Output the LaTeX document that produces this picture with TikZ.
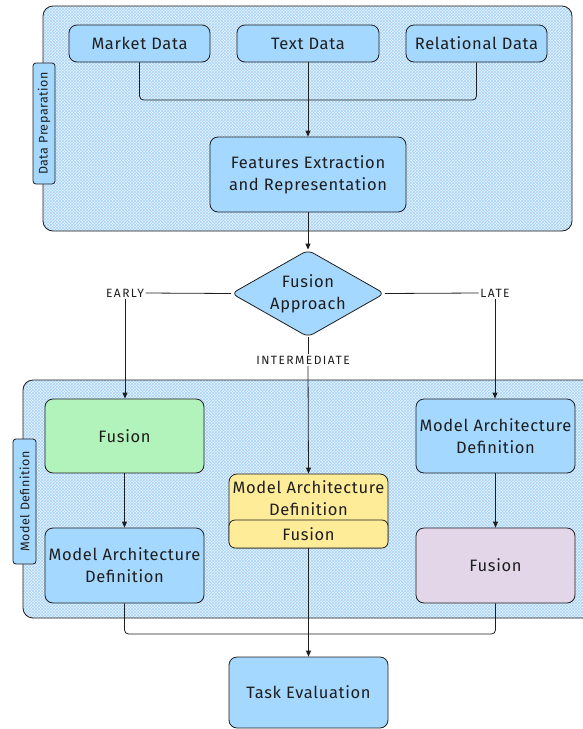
\documentclass[tikz,border=0pt]{standalone}
\usepackage{fontspec}
\setmainfont{Fira Sans}[LetterSpace=4]
\newfontfamily\choicefont{Fira Sans}[LetterSpace=12]
\usetikzlibrary{shapes.geometric,patterns,arrows.meta}

\definecolor{ink}{RGB}{30,30,30}
\definecolor{boxblue}{RGB}{165,216,255}
\definecolor{boxgreen}{RGB}{178,242,187}
\definecolor{boxyellow}{RGB}{255,236,153}
\definecolor{boxlilac}{RGB}{226,214,232}
\definecolor{hatchbg}{RGB}{232,244,255}
\definecolor{hatchln}{RGB}{165,210,246}

\tikzset{
  every node/.style={text=ink},
  label text/.style={font=\fontsize{16.5}{22}\selectfont},
  card/.style={draw=ink, line width=0.8pt, rounded corners=8pt, fill=boxblue,
    align=center, inner sep=1pt, label text},
  tag/.style={draw=ink, line width=0.8pt, rounded corners=3pt, fill=boxblue,
    rotate=90, inner sep=1pt, font=\fontsize{12.5}{14}\selectfont},
  group/.style={draw=ink, line width=0.8pt, rounded corners=10pt,
    preaction={fill=hatchbg}, pattern=crosshatch, pattern color=hatchln},
  wire/.style={draw=ink, line width=0.8pt, rounded corners=4pt},
  arrow/.style={wire, -{Triangle[length=6pt,width=5pt]}},
  choice/.style={font=\choicefont\fontsize{12}{13}\selectfont, inner sep=1.5pt}
}

\begin{document}
\begin{tikzpicture}[x=1pt,y=-1pt]
\useasboundingbox (0,0) rectangle (582,729);

% group backgrounds
\path[group] (43,6) rectangle (572,231);
\path[group] (23,380) rectangle (605,618);

% data preparation stage
\node[tag, minimum width=121pt, minimum height=22pt] (dptag) at (44,123.5) {Data Preparation};
\node[card, minimum width=141pt, minimum height=37pt] (md) at (139.5,43.5) {Market Data};
\node[card, minimum width=142pt, minimum height=37pt] (td) at (308,43.5) {Text Data};
\node[card, minimum width=141pt, minimum height=37pt] (rd) at (476.5,43.5) {Relational Data};
\node[card, minimum width=196pt, minimum height=75pt] (fe) at (308,174.5) {Features Extraction\\and Representation};
\coordinate (jtop) at (308,100);

\draw[wire] (md.south) |- (jtop);
\draw[wire] (rd.south) |- (jtop);
\draw[arrow] (td.south) -- (fe.north);

% fusion decision
\node[diamond, draw=ink, line width=0.8pt, fill=boxblue, rounded corners=6pt,
  minimum width=153pt, minimum height=87pt, inner sep=0pt, aspect=1.76] (fa) at (308,293.5) {};
\node[align=center, label text] (fatext) at (fa.center) {Fusion\\Approach};
\draw[arrow] (fe.south) -- (fa.north);

\node[choice] (early) at (125,293) {EARLY};
\node[choice] (late) at (495,293) {LATE};
\node[choice] (inter) at (303,360) {INTERMEDIATE};

% model definition stage
\node[tag, minimum width=125pt, minimum height=23pt] (mdtag) at (24.5,501.5) {Model Definition};

\node[card, fill=boxgreen, minimum width=159pt, minimum height=74pt] (ef) at (124.5,436) {Fusion};
\node[card, minimum width=159pt, minimum height=75pt] (ea) at (124.5,565.5) {Model Architecture\\Definition};

\node[card, fill=boxyellow, minimum width=159pt, minimum height=74pt] (ib) at (308.5,511) {};
\node[align=center, label text] (ia) at (308.5,498.5) {Model Architecture\\Definition};
\node[card, fill=boxyellow, rounded corners=6pt, minimum width=159pt, minimum height=28pt] (ifu) at (308.5,534) {Fusion};

\node[card, minimum width=159pt, minimum height=74pt] (la) at (495.5,436) {Model Architecture\\Definition};
\node[card, fill=boxlilac, minimum width=159pt, minimum height=75pt] (lf) at (495.5,565.5) {Fusion};

\draw[wire] (fa.west) -- (early.east);
\draw[arrow] (early.south) -- (early.south |- ef.north);
\draw[wire] (fa.east) -- (late.west);
\draw[arrow] (late.south) -- (late.south |- la.north);
\draw[wire] (fa.south) -- (fa.south |- inter.north);
\draw[arrow] (fa.south |- inter.south) -- (ib.north);

\draw[arrow] (ef.south) -- (ea.north);
\draw[arrow] (la.south) -- (lf.north);

% evaluation
\node[card, minimum width=159pt, minimum height=71pt] (te) at (308.5,692.5) {Task Evaluation};
\coordinate (jbot) at (308,634);
\draw[wire] (ea.south) |- (jbot);
\draw[wire] (lf.south) |- (jbot);
\draw[arrow] (ib.south) -- (te.north);
\end{tikzpicture}
\end{document}
